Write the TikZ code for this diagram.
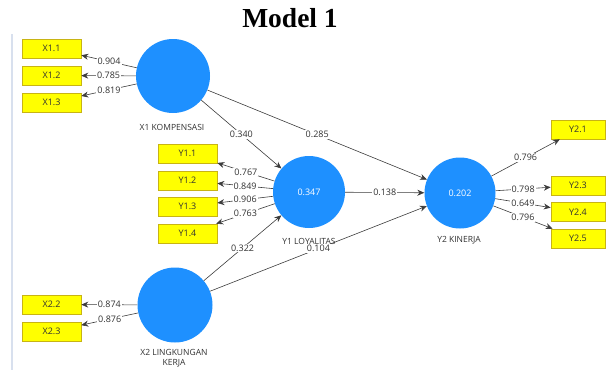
\documentclass[tikz,border=0pt]{standalone}
\usepackage{fontspec}
\setmainfont{Open Sans}
\newfontfamily\titlefont{Liberation Serif}
\usetikzlibrary{arrows.meta}
\definecolor{plsblue}{RGB}{30,144,255}
\definecolor{indfill}{RGB}{255,255,0}
\definecolor{indedge}{RGB}{200,180,20}
\definecolor{pathgray}{RGB}{60,60,60}
\definecolor{rulecol}{RGB}{216,224,238}
\definecolor{txtgray}{RGB}{50,50,50}

\begin{document}
\begin{tikzpicture}[x=1pt,y=-1pt,
  latent/.style={circle, fill=plsblue, inner sep=0pt, text=white,
    font=\fontsize{9}{10}\selectfont},
  indicator/.style={rectangle, fill=indfill, draw=indedge, line width=0.6pt,
    minimum width=59pt, minimum height=19pt, inner sep=0pt, text=txtgray,
    font=\fontsize{9}{10}\selectfont},
  lvname/.style={font=\fontsize{8.5}{10.5}\selectfont, text=txtgray,
    align=center, inner sep=1pt},
  coef/.style={midway, fill=white, inner sep=1pt, text=txtgray,
    font=\fontsize{9}{10}\selectfont},
  link/.style={draw=pathgray, line width=0.6pt,
    -{Stealth[length=7pt,width=6pt]}},
]
\useasboundingbox (0,0) rectangle (607,370);

% title and left margin rule
\node[anchor=base] (title) at (290,27)
  {\titlefont\bfseries\fontsize{27.5}{30}\selectfont Model 1};
\draw[rulecol, line width=2pt] (12,34) -- (12,370);

% latent variables
\node[latent, minimum size=74pt] (x1) at (173,76) {};
\node[latent, minimum size=72pt] (y1) at (309,192) {0.347};
\node[latent, minimum size=71pt] (y2) at (460,193) {0.202};
\node[latent, minimum size=75pt] (x2) at (175,305) {};

\node[lvname] (x1name) at (172,127) {X1 KOMPENSASI};
\node[lvname] (y1name) at (309,241) {Y1 LOYALITAS};
\node[lvname] (y2name) at (459,240) {Y2 KINERJA};
\node[lvname] (x2name) at (174,358) {X2 LINGKUNGAN\\KERJA};

% indicators
\node[indicator] (x11) at (51.5,48.5) {X1.1};
\node[indicator] (x12) at (51.5,75.5) {X1.2};
\node[indicator] (x13) at (51.5,102.5) {X1.3};

\node[indicator] (y11) at (187.5,153.5) {Y1.1};
\node[indicator] (y12) at (187.5,180.5) {Y1.2};
\node[indicator] (y13) at (187.5,206.5) {Y1.3};
\node[indicator] (y14) at (187.5,233.5) {Y1.4};

\node[indicator] (x22) at (51.5,304.5) {X2.2};
\node[indicator] (x23) at (51.5,331.5) {X2.3};

\node[indicator, minimum width=54pt] (y21) at (578,129.5) {Y2.1};
\node[indicator, minimum width=54pt] (y23) at (578,185.5) {Y2.3};
\node[indicator, minimum width=54pt] (y24) at (578,212) {Y2.4};
\node[indicator, minimum width=54pt] (y25) at (578,238.5) {Y2.5};

% outer loadings
\draw[link] (x1) -- node[coef] {0.904} (x11);
\draw[link] (x1) -- node[coef] {0.785} (x12);
\draw[link] (x1) -- node[coef] {0.819} (x13);

\draw[link] (y1) -- node[coef] {0.767} (y11);
\draw[link] (y1) -- node[coef] {0.849} (y12);
\draw[link] (y1) -- node[coef] {0.906} (y13);
\draw[link] (y1) -- node[coef] {0.763} (y14);

\draw[link] (x2) -- node[coef] {0.874} (x22);
\draw[link] (x2) -- node[coef] {0.876} (x23);

\draw[link] (y2) -- node[coef] {0.796} (y21);
\draw[link] (y2) -- node[coef] {0.798} (y23);
\draw[link] (y2) -- node[coef] {0.649} (y24);
\draw[link] (y2) -- node[coef] {0.796} (y25);

% structural paths
\draw[link] (x1) -- node[coef] {0.340} (y1);
\draw[link] (x1) -- node[coef] {0.285} (y2);
\draw[link] (y1) -- node[coef] {0.138} (y2);
\draw[link] (x2) -- node[coef] {0.322} (y1);
\draw[link] (x2) -- node[coef] {0.104} (y2);
\end{tikzpicture}
\end{document}
